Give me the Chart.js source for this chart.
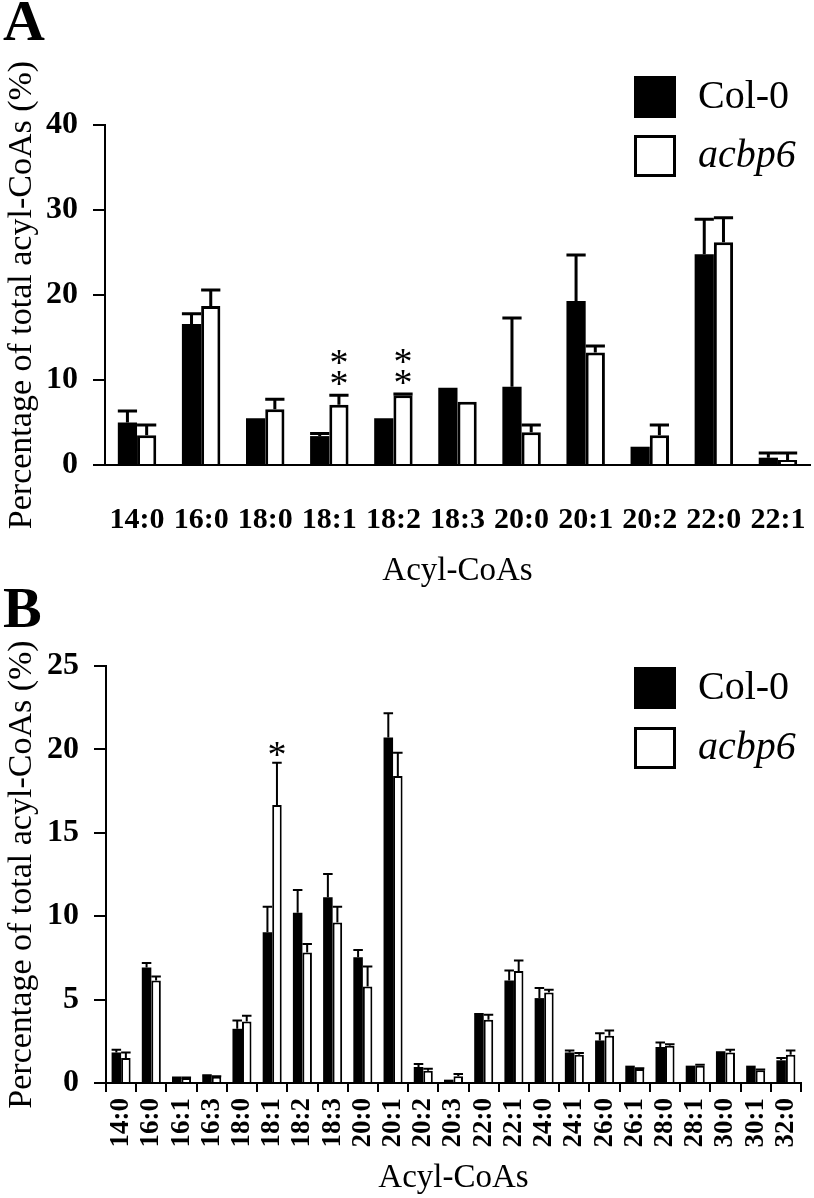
<!DOCTYPE html>
<html>
<head>
<meta charset="utf-8">
<script src="https://cdn.jsdelivr.net/npm/chart.js@4.4.1/dist/chart.umd.min.js"></script>
<style>
  body { margin: 0; background: #fff; }
  #wrap { position: relative; width: 814px; height: 1198px; }
  canvas { position: absolute; left: 0; }
  #chartA { top: 0; }
  #chartB { top: 570px; }
</style>
</head>
<body>
<div id="wrap">
  <canvas id="chartA" width="814" height="600"></canvas>
  <canvas id="chartB" width="814" height="628"></canvas>
</div>
<script>
// Panel A
const labelsA = ['14:0', '16:0', '18:0', '18:1', '18:2', '18:3', '20:0', '20:1', '20:2', '22:0', '22:1'];
const colA    = [5.0, 16.6, 5.5, 3.4, 5.5, 9.1, 9.2, 19.3, 2.15, 24.8, 0.86];
const colAErr = [1.35, 1.2, 0, 0.3, 0, 0, 8.1, 5.4, 0, 4.1, 0.55];
const acbA    = [3.5, 18.7, 6.55, 7.1, 8.2, 7.45, 3.85, 13.25, 3.5, 26.2, 0.6];
const acbAErr = [1.2, 1.9, 1.2, 1.1, 0.15, 0, 0.85, 0.75, 1.2, 2.9, 0.8];
const starsA  = [0, 0, 0, 2, 2, 0, 0, 0, 0, 0, 0];
const ticksA  = [0, 10, 20, 30, 40];

// Panel B
const labelsB = ['14:0', '16:0', '16:1', '16:3', '18:0', '18:1', '18:2', '18:3', '20:0', '20:1', '20:2', '20:3',
                 '22:0', '22:1', '24:0', '24:1', '26:0', '26:1', '28:0', '28:1', '30:0', '30:1', '32:0'];
const colB    = [1.83, 6.92, 0.3, 0.44, 3.25, 9.04, 10.2, 11.14, 7.54, 20.72, 0.96, 0.2,
                 4.09, 6.14, 5.09, 1.83, 2.55, 1.04, 2.16, 1.04, 1.8, 1.04, 1.36];
const colBErr = [0.17, 0.27, 0.03, 0.03, 0.5, 1.53, 1.37, 1.39, 0.44, 1.44, 0.18, 0,
                 0.05, 0.6, 0.6, 0.12, 0.44, 0, 0.27, 0, 0.05, 0, 0.14];
const acbB    = [1.5, 6.14, 0.3, 0.38, 3.69, 16.66, 7.82, 9.62, 5.79, 18.4, 0.74, 0.4,
                 3.79, 6.72, 5.43, 1.7, 2.83, 0.84, 2.23, 1.04, 1.83, 0.76, 1.7];
const acbBErr = [0.33, 0.24, 0.03, 0.03, 0.34, 2.54, 0.52, 0.95, 1.19, 1.4, 0.12, 0.14,
                 0.3, 0.62, 0.16, 0.1, 0.32, 0.05, 0.1, 0.05, 0.16, 0.05, 0.25];
const starsB  = [0, 0, 0, 0, 0, 1, 0, 0, 0, 0, 0, 0, 0, 0, 0, 0, 0, 0, 0, 0, 0, 0, 0];
const ticksB  = [0, 5, 10, 15, 20, 25];

const serif = "'Liberation Serif', 'Times New Roman', serif";

// error bars, asterisks, legend and panel letter
const extras = {
  id: 'extras',
  afterDatasetsDraw(chart, args, o) {
    const ctx = chart.ctx;
    const y = chart.scales.y;
    ctx.save();
    ctx.strokeStyle = '#000';
    ctx.lineWidth = o.errWidth;
    chart.data.datasets.forEach((ds, i) => {
      chart.getDatasetMeta(i).data.forEach((bar, j) => {
        const e = o.errors[i][j];
        if (!e) return;
        const top = y.getPixelForValue(ds.data[j] + e);
        const half = bar.width / 2;
        ctx.beginPath();
        ctx.moveTo(bar.x, bar.y);
        ctx.lineTo(bar.x, top);
        ctx.moveTo(bar.x - half, top);
        ctx.lineTo(bar.x + half, top);
        ctx.stroke();
      });
    });
    // significance stars over acbp6
    const ds = chart.data.datasets[1];
    ctx.fillStyle = '#000';
    ctx.font = '38px ' + serif;
    ctx.textAlign = 'center';
    ctx.textBaseline = 'alphabetic';
    chart.getDatasetMeta(1).data.forEach((bar, j) => {
      const n = o.stars[j];
      const top = y.getPixelForValue(ds.data[j] + o.errors[1][j]);
      for (let k = 0; k < n; k++) {
        const cy = top - o.starGap - k * 21;
        ctx.fillText('*', bar.x, cy + 0.46 * 38);
      }
    });
    ctx.restore();
  },
  afterDraw(chart, args, o) {
    const ctx = chart.ctx;
    ctx.save();
    ctx.fillStyle = '#000';
    ctx.font = 'bold 58px ' + serif;
    ctx.textAlign = 'left';
    ctx.textBaseline = 'alphabetic';
    ctx.fillText(o.letter, 3, o.letterY);

    chart.data.datasets.forEach((ds, i) => {
      const sy = o.legY + i * o.legStep;
      ctx.fillStyle = ds.backgroundColor;
      ctx.fillRect(634, sy, 42, 42);
      ctx.strokeStyle = '#000';
      ctx.lineWidth = 3;
      ctx.strokeRect(635.5, sy + 1.5, 39, 39);
      ctx.fillStyle = '#000';
      ctx.font = (i === 1 ? 'italic ' : '') + '40px ' + serif;
      ctx.textBaseline = 'middle';
      ctx.fillText(ds.label, 698, sy + 21);
    });
    ctx.restore();
  }
};

function makeChart(id, cfg) {
  return new Chart(document.getElementById(id), {
    type: 'bar',
    data: {
      labels: cfg.labels,
      datasets: [
        { label: 'Col-0', data: cfg.col, backgroundColor: '#000', borderWidth: 0 },
        { label: 'acbp6', data: cfg.acb, backgroundColor: '#fff', borderColor: '#000', borderWidth: cfg.border }
      ]
    },
    options: {
      responsive: false,
      animation: false,
      devicePixelRatio: 1,
      layout: { padding: { top: cfg.padTop, right: cfg.padRight, left: 0, bottom: 0 } },
      datasets: { bar: { categoryPercentage: cfg.catPct, barPercentage: 1 } },
      plugins: {
        legend: { display: false },
        tooltip: { enabled: false },
        extras: {
          errors: [cfg.colErr, cfg.acbErr],
          stars: cfg.stars,
          errWidth: cfg.errWidth,
          starGap: cfg.starGap,
          letter: cfg.letter,
          letterY: cfg.letterY,
          legY: cfg.legY,
          legStep: cfg.legStep
        }
      },
      scales: {
        x: {
          grid: cfg.xGrid,
          border: { display: true, color: '#000', width: 2 },
          ticks: {
            color: '#000', autoSkip: false,
            minRotation: cfg.rot, maxRotation: cfg.rot,
            padding: cfg.xPad,
            font: { family: serif, size: cfg.xFont, weight: 'bold' }
          },
          title: {
            display: true, text: 'Acyl-CoAs', color: '#000',
            font: { family: serif, size: 33 },
            padding: { top: 0, bottom: cfg.xTitlePad }
          },
          afterFit(s) { s.height = cfg.xHeight; s.paddingLeft = 0; s.paddingRight = 0; }
        },
        y: {
          min: 0,
          max: cfg.ticks[cfg.ticks.length - 1],
          afterBuildTicks(s) { s.ticks = cfg.ticks.map(v => ({ value: v })); },
          grid: { drawOnChartArea: false, drawTicks: true, tickLength: 12, color: '#000', lineWidth: 2 },
          border: { display: true, color: '#000', width: 2 },
          ticks: { color: '#000', padding: 15, font: { family: serif, size: 32, weight: 'bold' } },
          title: {
            display: true, text: 'Percentage of total acyl-CoAs (%)', color: '#000',
            font: { family: serif, size: 34 },
            padding: { top: 2, bottom: 0 }
          },
          afterFit(s) { s.width = cfg.yWidth; s.paddingTop = 0; s.paddingBottom = 0; }
        }
      }
    },
    plugins: [extras]
  });
}

makeChart('chartA', {
  labels: labelsA, col: colA, acb: acbA, colErr: colAErr, acbErr: acbAErr, stars: starsA, ticks: ticksA,
  border: 3, errWidth: 3, starGap: 17, catPct: 0.6,
  padTop: 125, padRight: 4, yWidth: 105, xHeight: 135,
  xGrid: { display: false }, rot: 0, xPad: 29, xFont: 30, xTitlePad: 9,
  letter: 'A', letterY: 40, legY: 76, legStep: 59
});

makeChart('chartB', {
  labels: labelsB, col: colB, acb: acbB, colErr: colBErr, acbErr: acbBErr, stars: starsB, ticks: ticksB,
  border: 2, errWidth: 2, starGap: 13, catPct: 0.63,
  padTop: 96, padRight: 13, yWidth: 106, xHeight: 115,
  xGrid: { display: true, drawOnChartArea: false, drawTicks: true, tickLength: 9, offset: true, color: '#000', lineWidth: 2 },
  rot: 90, xPad: 6, xFont: 27, xTitlePad: 0,
  letter: 'B', letterY: 57, legY: 97, legStep: 60
});
</script>
</body>
</html>
